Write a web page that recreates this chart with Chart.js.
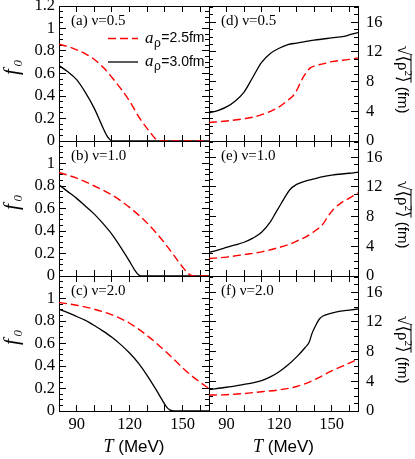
<!DOCTYPE html>
<html>
<head>
<meta charset="utf-8">
<title>f0 and rms size vs T</title>
<script src="https://cdn.jsdelivr.net/npm/chart.js@4.4.1/dist/chart.umd.min.js"></script>
<style>
  body { margin: 0; background: #fff; }
  #wrap { position: relative; width: 415px; height: 459px; }
  #wrap canvas { position: absolute; left: 0; top: 0; }
</style>
</head>
<body>
<div id="wrap"></div>
<script>
// ---- data: T in MeV, f0 (left column), sqrt<rho^2> in fm (right column)
// (a) nu=0.5
const tA25 = [80, 85, 90, 95, 100, 105, 110, 115, 120, 125, 130, 133, 135, 137, 165];
const fA25 = [0.86, 0.84, 0.81, 0.775, 0.725, 0.655, 0.565, 0.465, 0.355, 0.22, 0.11, 0.05, 0.015, 0, 0];
const tA30 = [80, 85, 90, 95, 100, 104, 107, 109, 110, 165];
const fA30 = [0.67, 0.615, 0.545, 0.43, 0.29, 0.15, 0.05, 0.01, 0, 0];
// (b) nu=1.0
const tB25 = [80, 90, 100, 110, 120, 130, 135, 140, 145, 150, 153, 155, 157, 165];
const fB25 = [0.92, 0.87, 0.80, 0.72, 0.61, 0.47, 0.385, 0.29, 0.185, 0.08, 0.025, 0.005, 0, 0];
const tB30 = [80, 85, 90, 95, 100, 105, 110, 115, 120, 123, 125, 127, 165];
const fB30 = [0.81, 0.75, 0.69, 0.62, 0.55, 0.465, 0.37, 0.255, 0.13, 0.05, 0.012, 0, 0];
// (c) nu=2.0
const tC25 = [80, 90, 100, 110, 120, 130, 140, 150, 155, 160, 165];
const fC25 = [0.965, 0.94, 0.905, 0.855, 0.78, 0.67, 0.535, 0.385, 0.315, 0.255, 0.2];
const tC30 = [80, 85, 90, 95, 100, 105, 110, 115, 120, 125, 130, 135, 138, 141, 143, 145, 165];
const fC30 = [0.905, 0.875, 0.84, 0.805, 0.76, 0.71, 0.655, 0.59, 0.515, 0.425, 0.315, 0.19, 0.11, 0.035, 0.008, 0, 0];
// (d) nu=0.5
const tD25 = [80, 90, 100, 105, 110, 115, 120, 125, 128, 130, 132, 134, 136, 138, 140, 145, 150, 160, 165];
const rD25 = [2.5, 2.7, 3.0, 3.2, 3.55, 4.0, 4.6, 5.5, 6.1, 6.8, 7.8, 8.7, 9.4, 9.9, 10.1, 10.4, 10.7, 11.0, 11.2];
const tD30 = [80, 85, 90, 95, 100, 105, 110, 115, 120, 125, 130, 140, 150, 157, 160, 165];
const rD30 = [3.8, 4.1, 4.6, 5.4, 6.6, 8.6, 10.6, 11.8, 12.5, 13.0, 13.2, 13.6, 13.9, 14.1, 14.3, 14.6];
// (e) nu=1.0
const tE25 = [80, 90, 100, 110, 120, 125, 130, 135, 140, 145, 148, 151, 155, 160, 165];
const rE25 = [2.35, 2.55, 2.9, 3.25, 3.85, 4.2, 4.7, 5.25, 6.0, 7.0, 8.1, 9.0, 9.8, 10.5, 11.2];
const tE30 = [80, 85, 90, 95, 100, 105, 110, 115, 118, 120, 123, 126, 130, 135, 140, 145, 150, 160, 165];
const rE30 = [3.2, 3.5, 3.85, 4.2, 4.55, 5.1, 5.9, 7.3, 8.5, 9.3, 10.5, 11.6, 12.35, 12.8, 13.1, 13.4, 13.6, 13.85, 14.0];
// (f) nu=2.0
const tF25 = [80, 90, 100, 110, 120, 130, 140, 150, 160, 165];
const rF25 = [2.15, 2.2, 2.35, 2.6, 2.85, 3.3, 4.2, 5.4, 6.45, 7.0];
const tF30 = [80, 90, 100, 105, 110, 115, 120, 125, 130, 135, 137, 139, 141, 143, 145, 150, 155, 160, 165];
const rF30 = [2.9, 3.2, 3.6, 3.8, 4.1, 4.6, 5.3, 6.2, 7.3, 8.6, 9.2, 10.6, 11.6, 12.4, 12.8, 13.2, 13.45, 13.6, 13.75];

// ---- ticks
const xTicks = [80, 90, 100, 110, 120, 130, 140, 150, 160];
const xTickText = ['', '90', '', '', '120', '', '', '150', ''];
const fTicks = [0, 0.2, 0.4, 0.6, 0.8, 1, 1.2];
const fTickText = ['0', '0.2', '0.4', '0.6', '0.8', '1', '1.2'];
const rTicks = [0, 4, 8, 12, 16];
const rTickText = ['0', '4', '8', '12', '16'];
const fMinor = Array.from({ length: 25 }, (_, i) => +(i * 0.05).toFixed(2));
const rMinor = Array.from({ length: 19 }, (_, i) => i);

const legendText = ['2.5fm', '3.0fm'];
const panelText = ['(a) ν=0.5', '(b) ν=1.0', '(c) ν=2.0', '(d) ν=0.5', '(e) ν=1.0', '(f) ν=2.0'];

const SERIF = "'Liberation Serif', 'Times New Roman', 'DejaVu Serif', serif";
const SANS = "'Liberation Sans', Arial, 'DejaVu Sans', sans-serif";
const RED = '#ff0000';

// panel frame in page pixels
const colL = [59, 209], colR = [209, 358];
const rowT = [6, 141, 276], rowB = [141, 276, 411];
const W = 415, H = 459;

function pts(t, v) {
  return t.map((x, i) => ({ x: x, y: v[i] }));
}

// one inward-ticked axis; size is the box the labels live in
function axis(pos, min, max, ticks, len, texts, pad, size, border) {
  return {
    type: 'linear', position: pos, min: min, max: max,
    weight: size > 0 ? 1 : 0,
    afterBuildTicks: s => { s.ticks = ticks.map(v => ({ value: v })); },
    afterFit: s => {
      if (s.isHorizontal()) s.height = size; else s.width = size;
      s.paddingTop = s.paddingBottom = s.paddingLeft = s.paddingRight = 0;
    },
    grid: { display: true, drawOnChartArea: false, drawTicks: true, tickLength: -len, tickColor: '#000', tickWidth: 1 },
    border: { display: border, color: '#000', width: 1 },
    ticks: {
      display: !!texts, autoSkip: false, maxRotation: 0, minRotation: 0, padding: pad, color: '#000',
      font: { family: SERIF, size: 16.5 },
      callback: (v, i) => texts ? (texts[i] || '') : ''
    }
  };
}

function runs(ctx, list, x) {
  for (const r of list) {
    ctx.font = r[1];
    ctx.fillText(r[0], x, r[2]);
    x += ctx.measureText(r[0]).width + (r[3] || 0);
  }
  return x;
}
function runsWidth(ctx, list) {
  let w = 0;
  for (const r of list) { ctx.font = r[1]; w += ctx.measureText(r[0]).width + (r[3] || 0); }
  return w;
}

function drawF0(ctx, x, y) {
  const list = [['f', 'italic 21px ' + SERIF, 4, 2.5], ['0', 'italic 13px ' + SERIF, 8]];
  ctx.save();
  ctx.translate(x, y);
  ctx.rotate(-Math.PI / 2);
  ctx.textBaseline = 'alphabetic';
  ctx.textAlign = 'left';
  runs(ctx, list, -runsWidth(ctx, list) / 2);
  ctx.restore();
}

function drawRho(ctx, x, y) {
  const head = [['√', '18px ' + SERIF, 0]];
  const body = [['⟨ρ', '17px ' + SERIF, 0], ['2', '11px ' + SERIF, -7], ['⟩', '17px ' + SERIF, 0]];
  const tail = [[' (fm)', '15px ' + SANS, 0]];
  ctx.save();
  ctx.translate(x, y);
  ctx.rotate(Math.PI / 2);
  ctx.textBaseline = 'alphabetic';
  ctx.textAlign = 'left';
  const total = runsWidth(ctx, head) + runsWidth(ctx, body) + runsWidth(ctx, tail);
  let px = -total / 2;
  px = runs(ctx, head, px);
  const b0 = px;
  px = runs(ctx, body, px);
  ctx.strokeStyle = '#000';
  ctx.lineWidth = 1;
  ctx.beginPath();
  ctx.moveTo(b0 - 1, -13);
  ctx.lineTo(px, -13);
  ctx.stroke();
  runs(ctx, tail, px);
  ctx.restore();
}

function drawT(ctx, cx, y) {
  const list = [['T', 'italic 18px ' + SERIF, y], [' (MeV)', '17px ' + SANS, y]];
  ctx.textBaseline = 'alphabetic';
  ctx.textAlign = 'left';
  runs(ctx, list, cx - runsWidth(ctx, list) / 2);
}

function drawLegend(ctx, chart) {
  const a = chart.chartArea;
  chart.data.datasets.forEach((ds, i) => {
    const y = a.top + 32.5 + i * 23.5;
    ctx.save();
    ctx.strokeStyle = ds.borderColor;
    ctx.lineWidth = ds.borderWidth;
    ctx.setLineDash(ds.borderDash || []);
    ctx.beginPath();
    ctx.moveTo(a.left + 49, y);
    ctx.lineTo(a.left + 79, y);
    ctx.stroke();
    ctx.restore();
    ctx.textBaseline = 'middle';
    ctx.textAlign = 'left';
    runs(ctx, [
      ['a', 'italic 17px ' + SERIF, y, 0.5],
      ['ρ', '12px ' + SANS, y + 5, 0.5],
      ['=' + legendText[i], '14px ' + SANS, y]
    ], a.left + 86);
  });
}

function deco(p) {
  return {
    id: 'deco',
    afterDraw(chart) {
      const ctx = chart.ctx, a = chart.chartArea;
      const cy = (a.top + a.bottom) / 2;
      ctx.save();
      ctx.fillStyle = '#000';
      ctx.textBaseline = 'middle';
      ctx.textAlign = 'left';
      ctx.font = '15px ' + SERIF;
      ctx.fillText(p.label, a.left + 12, a.top + 15.5);
      if (p.col === 0) drawF0(ctx, 14, cy - 6);
      else drawRho(ctx, 398, cy + 6);
      if (p.row === 2) drawT(ctx, (a.left + a.right) / 2, 452);
      if (p.legend) drawLegend(ctx, chart);
      ctx.restore();
    }
  };
}

const panels = [
  { row: 0, col: 0, t25: tA25, v25: fA25, t30: tA30, v30: fA30, legend: true },
  { row: 1, col: 0, t25: tB25, v25: fB25, t30: tB30, v30: fB30 },
  { row: 2, col: 0, t25: tC25, v25: fC25, t30: tC30, v30: fC30 },
  { row: 0, col: 1, t25: tD25, v25: rD25, t30: tD30, v30: rD30 },
  { row: 1, col: 1, t25: tE25, v25: rE25, t30: tE30, v30: rE30 },
  { row: 2, col: 1, t25: tF25, v25: rF25, t30: tF30, v30: rF30 }
];

function makePanel(p, k) {
  p.label = panelText[k];
  const cv = document.createElement('canvas');
  cv.width = W; cv.height = H;
  cv.style.width = W + 'px'; cv.style.height = H + 'px';
  document.getElementById('wrap').appendChild(cv);

  const left = p.col === 0, bottom = p.row === 2;
  const yMax = left ? 1.2 : 18.2;
  const major = left ? fTicks : rTicks;
  const minor = left ? fMinor : rMinor;
  const majorText = left ? (p.row === 0 ? fTickText : fTickText.slice(0, -1)) : rTickText;
  const leftBox = left ? colL[0] : 0;
  const rightBox = left ? 0 : W - colR[1];
  const bottomBox = bottom ? H - rowB[2] : 0;

  new Chart(cv, {
    type: 'line',
    data: {
      datasets: [
        { label: 'aρ=' + legendText[0], data: pts(p.t25, p.v25), borderColor: RED, borderDash: [8, 4], borderWidth: 1.4 },
        { label: 'aρ=' + legendText[1], data: pts(p.t30, p.v30), borderColor: '#000', borderWidth: 1.3 }
      ]
    },
    options: {
      responsive: false,
      animation: false,
      events: [],
      layout: {
        padding: {
          left: colL[p.col] - leftBox,
          right: W - colR[p.col] - rightBox,
          top: rowT[p.row],
          bottom: H - rowB[p.row] - bottomBox
        }
      },
      elements: { point: { radius: 0 }, line: { cubicInterpolationMode: 'monotone', fill: false } },
      plugins: { legend: { display: false }, tooltip: { enabled: false } },
      scales: {
        x: axis('bottom', 80, 165, xTicks, 6, bottom ? xTickText : null, 10, bottomBox, true),
        xt: axis('top', 80, 165, xTicks, 6, null, 0, 0, true),
        y: axis('left', 0, yMax, major, 7, left ? majorText : null, 11, leftBox, true),
        ym: axis('left', 0, yMax, minor, 4, null, 0, 0, false),
        yr: axis('right', 0, yMax, major, 7, left ? null : majorText, 15, rightBox, true),
        yrm: axis('right', 0, yMax, minor, 4, null, 0, 0, false)
      }
    },
    plugins: [deco(p)]
  });
}

panels.forEach(makePanel);
</script>
</body>
</html>
